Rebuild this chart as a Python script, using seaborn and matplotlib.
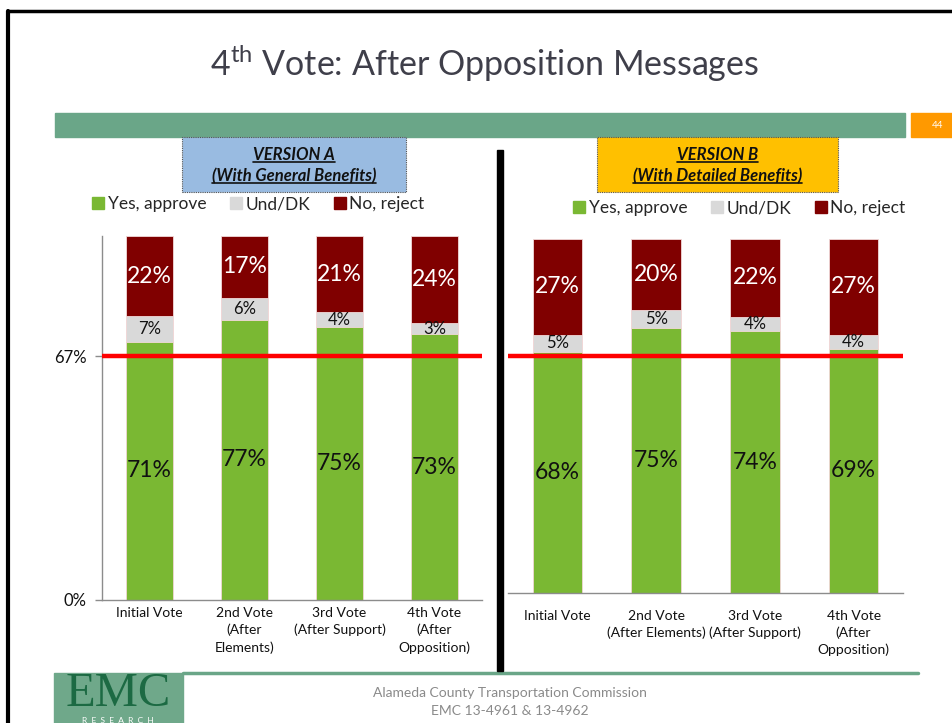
import matplotlib
matplotlib.use("Agg")
import matplotlib.pyplot as plt
import seaborn as sns
import numpy as np
from matplotlib.lines import Line2D
from matplotlib.patches import Rectangle

# ---------------- data ----------------
cats_a = ["Initial Vote", "2nd Vote\n(After\nElements)", "3rd Vote\n(After Support)", "4th Vote\n(After\nOpposition)"]
cats_b = ["Initial Vote", "2nd Vote\n(After Elements)", "3rd Vote\n(After Support)", "4th Vote\n(After\nOpposition)"]
yes_a = [71, 77, 75, 73]
und_a = [7, 6, 4, 3]
no_a = [22, 17, 21, 24]
yes_b = [68, 75, 74, 69]
und_b = [5, 5, 4, 4]
no_b = [27, 20, 22, 27]
series_names = ["Yes, approve", "Und/DK", "No, reject"]
threshold = 67
ytick_vals = [0, 67]
ytick_labels = ["0%", "67%"]

# ---------------- style ----------------
sns.set_theme(style="white")
plt.rcParams["font.family"] = ["Lato", "DejaVu Sans"]
plt.rcParams["mathtext.fontset"] = "custom"
plt.rcParams["mathtext.rm"] = "Lato"

C_YES = "#7AB833"
C_UND = "#D9D9D9"
C_NO = "#800000"
C_RED = "#FF0000"

W, H = 953, 723
fig = plt.figure(figsize=(W / 100, H / 100), dpi=100)


def fx(px):
    return px / W


def fy(py):
    return 1 - py / H


def draw_panel(ax, cats, yes, und, no, show_y, xpad):
    tot = [a + b + c for a, b, c in zip(yes, und, no)]
    yu = [a + b for a, b in zip(yes, und)]
    kw = dict(width=0.5, saturation=1, edgecolor="#F2D9D9", linewidth=0.6, ax=ax)
    sns.barplot(x=cats, y=tot, color=C_NO, **kw)
    sns.barplot(x=cats, y=yu, color=C_UND, **kw)
    sns.barplot(x=cats, y=yes, color=C_YES, **kw)
    ax.axhline(threshold, color=C_RED, lw=3.2, zorder=5)
    for i in range(len(cats)):
        ax.text(i, yes[i] / 2, f"{yes[i]}%", ha="center", va="center",
                fontsize=16.5, color="#111111", zorder=6)
        ax.text(i, yes[i] + und[i] / 2, f"{und[i]}%", ha="center", va="center",
                fontsize=12, color="#111111", zorder=6)
        ax.text(i, yes[i] + und[i] + no[i] / 2, f"{no[i]}%", ha="center", va="center",
                fontsize=16.5, color="white", zorder=6)
    ax.set_xlim(-0.5, len(cats) - 0.5)
    ax.set_ylim(0, 100)
    ax.set_xlabel("")
    ax.set_ylabel("")
    ax.set_xticks(range(len(cats)))
    ax.set_xticklabels(cats, linespacing=1.45)
    ax.tick_params(axis="x", length=0, pad=xpad, labelsize=10, colors="#111111")
    for s in ["top", "right"]:
        ax.spines[s].set_visible(False)
    ax.spines["bottom"].set_color("#8C8C8C")
    ax.spines["bottom"].set_linewidth(1.0)
    if show_y:
        ax.spines["left"].set_color("#8C8C8C")
        ax.spines["left"].set_linewidth(1.0)
        ax.set_yticks(ytick_vals)
        ax.set_yticklabels(ytick_labels)
        ax.tick_params(axis="y", length=5, width=1, color="#8C8C8C", pad=6,
                       labelsize=12, labelcolor="#111111", left=True)
    else:
        ax.spines["left"].set_visible(False)
        ax.set_yticks([])
    ax.set_facecolor("none")


ax_a = fig.add_axes([fx(102), fy(600), fx(380), (600 - 236) / H])
draw_panel(ax_a, cats_a, yes_a, und_a, no_a, True, 5)
ax_b = fig.add_axes([fx(508), fy(593), fx(395), (593 - 239) / H])
draw_panel(ax_b, cats_b, yes_b, und_b, no_b, False, 12)

# ---------------- legends ----------------
handles = [Line2D([], [], marker="s", linestyle="none", markersize=8,
                  markerfacecolor=c, markeredgecolor=c) for c in (C_YES, C_UND, C_NO)]
for cx, cy in ((258, 204), (739, 208)):
    fig.legend(handles, series_names, loc="center", bbox_to_anchor=(fx(cx), fy(cy)),
               ncol=3, frameon=False, fontsize=12.5, handletextpad=0.15,
               columnspacing=1.3, handlelength=0.8, borderpad=0)

# ---------------- slide decoration ----------------
# frame
fig.add_artist(Line2D([fx(8), fx(8)], [fy(11), 0], color="black", lw=3, transform=fig.transFigure))
fig.add_artist(Line2D([fx(8), 1], [fy(11), fy(11)], color="black", lw=2.5, transform=fig.transFigure))

# title
fig.text(fx(485), fy(63), r"4$^{\mathrm{th}}$ Vote: After Opposition Messages", ha="center",
         va="center", fontsize=24.5, color="#3F3F4A")

# green header bar + page number box
fig.add_artist(Rectangle((fx(55), fy(137)), fx(905 - 55), (137 - 113) / H, color="#6AA688",
                         transform=fig.transFigure, zorder=0))
fig.add_artist(Rectangle((fx(911), fy(137)), fx(953 - 911), (137 - 113) / H, color="#FF9900",
                         transform=fig.transFigure, zorder=0))
fig.text(fx(938), fy(125), "44", ha="center", va="center", fontsize=7, color="white")

# separator
fig.add_artist(Rectangle((fx(497), fy(671)), fx(6), (671 - 150) / H, color="black",
                         transform=fig.transFigure, zorder=3))

# version boxes
boxes = [(182, 406, "#99BBE1", "VERSION A", "(With General Benefits)"),
         (597, 838, "#FFC000", "VERSION B", "(With Detailed Benefits)")]
txts = []
for x0, x1, col, t1, t2 in boxes:
    fig.add_artist(Rectangle((fx(x0), fy(192)), fx(x1 - x0), (192 - 137) / H, facecolor=col,
                             edgecolor="#555555", lw=0.8, linestyle=(0, (1, 1)),
                             transform=fig.transFigure, zorder=1))
    cx = (x0 + x1) / 2
    for yy, t in ((155, t1), (176, t2)):
        tt = fig.text(fx(cx), fy(yy), t, ha="center", va="center", fontsize=12,
                      fontweight="bold", style="italic", color="#111111", zorder=2)
        txts.append(tt)

# bottom line + footer
fig.add_artist(Line2D([fx(183), fx(918)], [fy(673), fy(673)], color="#6AA688", lw=2.5,
                      transform=fig.transFigure))
fig.text(fx(510), fy(693), "Alameda County Transportation Commission", ha="center", va="center",
         fontsize=10, color="#8A8A8A")
fig.text(fx(510), fy(711), "EMC 13-4961 & 13-4962", ha="center", va="center",
         fontsize=10, color="#8A8A8A")

# logo
fig.add_artist(Rectangle((fx(54), 0), fx(183 - 54), (723 - 673) / H, color="#6FA88A",
                         transform=fig.transFigure, zorder=1))
fig.text(fx(118), fy(706), "EMC", ha="center", va="baseline", fontsize=35,
         family=["Liberation Serif", "DejaVu Serif"], color="#1C6A43", zorder=2)
fig.text(fx(118), fy(723), "R  E  S  E  A  R  C  H", ha="center", va="baseline", fontsize=6,
         color="white", zorder=2)

# underline version texts
fig.canvas.draw()
r = fig.canvas.get_renderer()
for tt in txts:
    bb = tt.get_window_extent(r)
    y = bb.y0 + 1
    fig.add_artist(Line2D([bb.x0 / W, bb.x1 / W], [y / H, y / H], color="#111111", lw=1.2,
                          transform=fig.transFigure, zorder=2))

fig.savefig("out.png", dpi=100)
